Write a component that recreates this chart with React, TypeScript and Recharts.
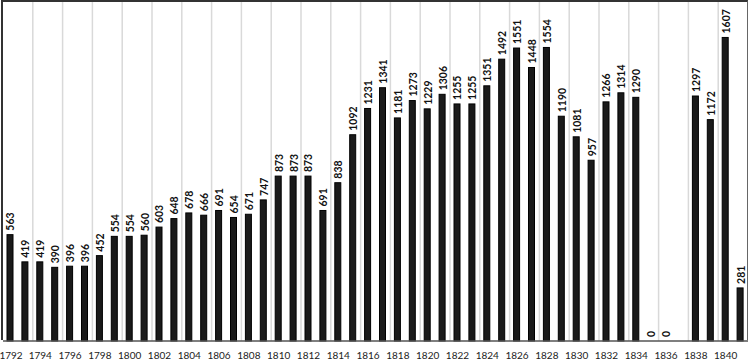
import React from 'react';
import { BarChart, Bar, XAxis, YAxis, CartesianGrid } from 'recharts';

const years: string[] = [
    '1792', '1793', '1794', '1795', '1796', '1797', '1798', '1799', '1800', '1801',
    '1802', '1803', '1804', '1805', '1806', '1807', '1808', '1809', '1810', '1811',
    '1812', '1813', '1814', '1815', '1816', '1817', '1818', '1819', '1820', '1821',
    '1822', '1823', '1824', '1825', '1826', '1827', '1828', '1829', '1830', '1831',
    '1832', '1833', '1834', '1835', '1836', '1837', '1838', '1839', '1840', '1841',
];

const counts: (number | null)[] = [
    563, 419, 419, 390, 396, 396, 452, 554, 554, 560,
    603, 648, 678, 666, 691, 654, 671, 747, 873, 873,
    873, 691, 838, 1092, 1231, 1341, 1181, 1273, 1229, 1306,
    1255, 1255, 1351, 1492, 1551, 1448, 1554, 1190, 1081, 957,
    1266, 1314, 1290, 0, 0, null, 1297, 1172, 1607, 281,
];

const data = years.map((year, i) => ({ year, count: counts[i] }));

const FONT = 'Lato, "Open Sans", sans-serif';

const W = 750;
const H = 360;
const margin = { top: 1, right: 2, bottom: 0, left: 3 };
const axisHeight = 19;

// bar + rotated value label drawn together
const BarWithLabel = (props: any) => {
    const { x, y, width, height, payload } = props;
    const value = payload ? payload.count : null;
    if (value === null || value === undefined) return null;
    const cx = Number(x) + Number(width) / 2 + 4.5;
    const cy = Number(y) - 4;
    return (
        <g>
            {Number(height) > 0 && (
                <rect x={x} y={y} width={width} height={height} fill="#1a1a1a" stroke="#000" strokeWidth={1} />
            )}
            <text
                x={cx}
                y={cy}
                transform={`rotate(-90 ${cx} ${cy})`}
                textAnchor="start"
                fontSize={10.5}
                fontWeight="bold"
                fontFamily={FONT}
                fill="#111"
            >
                {value}
            </text>
        </g>
    );
};

const YearTick = (props: any) => {
    const { x, y, payload } = props;
    const px = Math.max(Number(x), 11);
    return (
        <text x={px} y={Number(y) + 10} textAnchor="middle" fontSize={10} fontFamily={FONT} fill="#222">
            {payload.value}
        </text>
    );
};

const App = () => {
    return (
        <div style={{ position: 'absolute', left: 0, top: 0, width: W, height: H, background: '#fff' }}>
            <BarChart width={W} height={H} data={data} margin={margin} barCategoryGap={0}>
                <CartesianGrid
                    horizontal={false}
                    stroke="#d9d9d9"
                    strokeWidth={1.5}
                    verticalCoordinatesGenerator={({ offset }: any) => {
                        const band = offset.width / years.length;
                        const xs: number[] = [];
                        for (let k = 2; k < years.length; k += 2) xs.push(offset.left + band * k);
                        return xs;
                    }}
                />
                <XAxis
                    dataKey="year"
                    interval={1}
                    height={axisHeight}
                    tickLine={false}
                    axisLine={{ stroke: '#555', strokeWidth: 1.5 }}
                    tick={YearTick}
                />
                <YAxis hide domain={[0, 1800]} />
                <Bar
                    dataKey="count"
                    barSize={6}
                    fill="#1a1a1a"
                    shape={BarWithLabel}
                    isAnimationActive={false}
                />
            </BarChart>
            <div
                style={{
                    position: 'absolute',
                    left: margin.left - 2,
                    top: 0,
                    width: W - margin.left - margin.right + 2,
                    height: H - axisHeight - margin.top,
                    borderLeft: '2px solid #333',
                    borderTop: '2px solid #333',
                    borderRight: '1px solid #666',
                    boxSizing: 'border-box',
                    pointerEvents: 'none',
                }}
            />
        </div>
    );
};

export default App;
